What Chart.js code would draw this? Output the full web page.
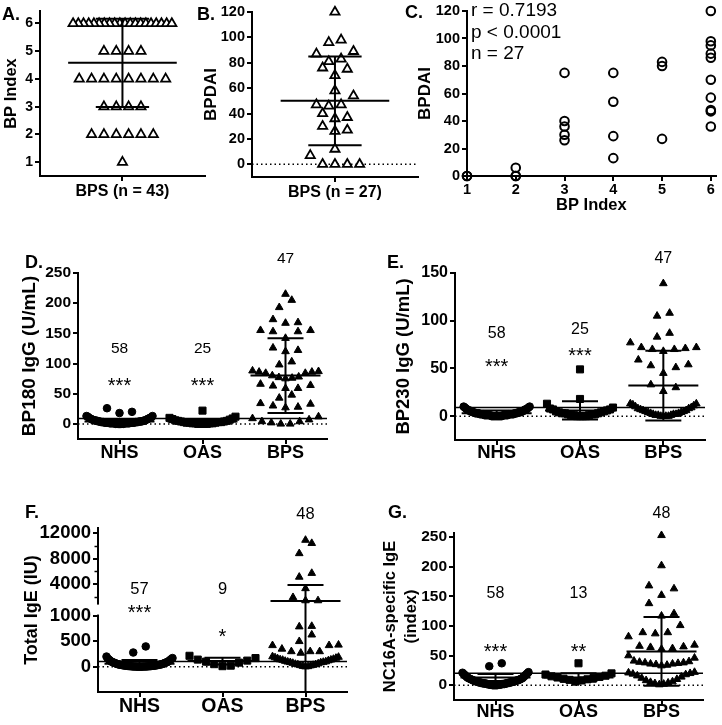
<!DOCTYPE html>
<html>
<head>
<meta charset="utf-8">
<script src="https://cdn.jsdelivr.net/npm/chart.js@4.4.1/dist/chart.umd.min.js"></script>
<style>
  body { margin: 0; background: #fff; }
  #fig { position: relative; width: 722px; height: 725px; overflow: hidden; font-family: "Liberation Sans", Arial, Helvetica, sans-serif; color: #000; }
  #fig canvas { position: absolute; }
  .tag { position: absolute; font-weight: bold; font-size: 18px; line-height: 1; z-index: 2; }
  .stat { position: absolute; left: 471px; top: -1px; font-size: 19px; line-height: 21.5px; z-index: 2; }
</style>
</head>
<body>
<div id="fig">
  <canvas id="cA"></canvas>
  <canvas id="cB"></canvas>
  <canvas id="cC"></canvas>
  <canvas id="cD"></canvas>
  <canvas id="cE"></canvas>
  <canvas id="cF"></canvas>
  <canvas id="cG"></canvas>
  <div class="tag" style="left:2px;top:5px">A.</div>
  <div class="tag" style="left:197px;top:5px">B.</div>
  <div class="tag" style="left:405px;top:3px">C.</div>
  <div class="tag" style="left:25px;top:253px">D.</div>
  <div class="tag" style="left:387px;top:253px">E.</div>
  <div class="tag" style="left:25px;top:503px">F.</div>
  <div class="tag" style="left:388px;top:503px">G.</div>
  <div class="stat">r = 0.7193<br>p &lt; 0.0001<br>n = 27</div>
</div>
<script>
// ---------- data ----------
const groupNames = ['NHS', 'OAS', 'BPS'];

// A. BP Index in BPS
const aBpIndex = [6, 6, 6, 6, 6, 6, 6, 6, 6, 6, 6, 6, 6, 6, 6, 6, 6, 6, 6, 6,
  5, 5, 5, 5, 4, 4, 4, 4, 4, 4, 4, 4, 3, 3, 3, 3, 2, 2, 2, 2, 2, 2, 1];
const aMean = [4.58];
const aSd = [1.59];
const aTicks = [1, 2, 3, 4, 5, 6];

// B. BPDAI in BPS
const bBpdai = [120, 98, 96, 89, 87, 83, 81, 76, 75, 70, 58, 54, 47, 46, 47, 40, 37, 36,
  30, 27, 26, 12, 7, 0, 0, 0, 0];
const bMean = [50];
const bSd = [35];
const bTicks = [0, 20, 40, 60, 80, 100, 120];

// C. BPDAI against BP Index
const cBpIndex = [1, 1, 2, 2, 2, 3, 3, 3, 3, 3, 4, 4, 4, 4, 5, 5, 5, 6, 6, 6, 6, 6, 6, 6, 6, 6, 6];
const cBpdai = [0, 0, 6, 0, 0, 75, 40, 36, 30, 26, 75, 54, 29, 13, 83, 80, 27,
  120, 98, 95, 89, 86, 70, 57, 48, 47, 36];
const cXTicks = [1, 2, 3, 4, 5, 6];
const cYTicks = [0, 20, 40, 60, 80, 100, 120];

// D. BP180 IgG (U/mL)
const dNhs = [26, 20, 18, 13, 13, 12, 11, 10, 10, 9, 9, 8, 8, 7, 7, 6, 6, 6, 5, 5, 5, 5, 4,
  4, 4, 4, 4, 3, 3, 3, 3, 3, 3, 2, 2, 2, 2, 2, 2, 2, 2, 1, 1, 1, 1, 1, 1, 1, 1, 1, 1, 0, 0, 0, 0, 0, 0, 0];
const dOas = [22, 12, 10, 9, 8, 7, 6, 5, 5, 4, 4, 3, 3, 3, 2, 2, 2, 1, 1, 1, 1, 0, 0, 0, 0];
const dBps = [215, 205, 193, 173, 168, 167, 155, 155, 153, 153, 142, 126, 122, 120, 103, 98,
  88, 87, 86, 84, 84, 80, 78, 77, 76, 75, 86, 66, 64, 63, 59, 59, 48, 43, 34, 33, 30, 28, 27,
  12, 9, 7, 4, 2, 0, 0, 4];
const dMean = [4, 4, 80];
const dSd = [4, 4, 62];
const dCutoff = 9;
const dStars = ['***', '***', ''];
const dTicks = [0, 50, 100, 150, 200, 250];

// E. BP230 IgG (U/mL)
const eNhs = [10, 10, 9, 9, 8, 8, 7, 7, 7, 6, 6, 6, 5, 5, 5, 5, 4, 4, 4, 4, 4, 3, 3, 3, 3, 3,
  3, 3, 2, 2, 2, 2, 2, 2, 2, 2, 2, 1, 1, 1, 1, 1, 1, 1, 1, 1, 1, 1, 0, 0, 0, 0, 0, 0, 0, 0, 0, 0];
const eOas = [49, 18, 13, 9, 8, 7, 7, 6, 5, 5, 4, 4, 3, 3, 3, 2, 2, 2, 1, 1, 1, 0, 0, 0, 0];
const eBps = [139, 108, 105, 87, 83, 77, 72, 72, 71, 70, 70, 68, 59, 54, 53, 51, 45, 33, 30, 26,
  13, 13, 12, 11, 10, 9, 8, 8, 7, 6, 6, 5, 5, 4, 4, 3, 3, 2, 2, 2, 1, 1, 1, 0, 0, 0, 0];
const eMean = [3, 6, 32];
const eSd = [3, 9.6, 36.5];
const eCutoff = 9;
const eStars = ['***', '***', ''];
const eTicks = [0, 50, 100, 150];

// F. Total IgE (IU), split axis
const fNhs = [400, 280, 200, 170, 160, 150, 140, 130, 120, 110, 100, 95, 90, 85, 80, 75, 70,
  65, 60, 55, 50, 48, 45, 42, 40, 38, 35, 32, 30, 28, 26, 24, 22, 20, 19, 18, 16, 15, 14, 12,
  11, 10, 9, 8, 7, 6, 5, 5, 4, 4, 3, 3, 2, 2, 1, 1, 0];
const fOas = [215, 170, 140, 120, 100, 80, 50, 20, 10];
const fBps = [10900, 10400, 8800, 5700, 5100, 3300, 1900, 1400, 1400, 800, 790, 630, 500,
  430, 420, 420, 350, 300, 300, 300, 270, 200, 190, 180, 170, 160, 150, 140, 135, 130, 120,
  110, 100, 95, 90, 85, 80, 70, 60, 50, 45, 40, 30, 25, 20, 10, 5, 0];
const fMean = [60, 110, 1330];
const fSd = [70, 65, 2500];
const fCutoff = 100;
const fStars = ['***', '*', ''];
const fTicks = [0, 500, 1000, 4000, 8000, 12000];
const fMinorTicks = [2000, 6000, 10000];

// G. NC16A-specific IgE (index)
const gNhs = [37, 32, 22, 21, 20, 19, 18, 17, 16, 15, 14, 13, 12, 12, 11, 11, 10, 10, 9, 9, 8,
  8, 8, 7, 7, 7, 6, 6, 6, 5, 5, 5, 5, 4, 4, 4, 4, 3, 3, 3, 3, 3, 2, 2, 2, 2, 2, 1, 1, 1, 1, 1,
  1, 0, 0, 0, 0, 0];
const gOas = [37, 20, 18, 16, 15, 14, 13, 12, 11, 10, 9, 8, 6];
const gBps = [253, 202, 168, 163, 152, 138, 121, 117, 101, 89, 89, 87, 82, 68, 66, 65, 64, 62,
  61, 50, 46, 41, 40, 39, 38, 38, 37, 36, 36, 35, 34, 33, 22, 21, 20, 19, 18, 16, 14, 12, 10,
  8, 6, 5, 4, 3, 2, 1];
const gMean = [13, 13, 57];
const gSd = [6, 7, 58];
const gCutoff = 20;
const gStars = ['***', '**', ''];
const gTicks = [0, 50, 100, 150, 200, 250];

// ---------- helpers ----------
const FONT = '"Liberation Sans", Arial, Helvetica, sans-serif';
Chart.defaults.font.family = FONT;
Chart.defaults.color = '#000';

const same = v => v;

// F: upper part of the split axis is squeezed above a blank band
const fBreak = 1000;
const fGap = 256;
const fSquash = 0.1257;
const fScale = v => (v <= fBreak ? v : fBreak + fGap + (v - fBreak) * fSquash);

// pixel sizes of the scatter layout turned into axis units
function layoutOf(g) {
  const px = (g.r - g.l) / (g.xmax - g.xmin);
  const py = (g.b - g.t) / (g.ymax - g.ymin);
  return { bin: g.binPx / py, step: g.stepPx / px, half: g.halfPx / px, mean: g.meanPx / px, cap: g.capPx / px };
}

// column scatter: values in rows, lowest in the middle, spread outwards
function swarm(values, center, lay) {
  const sorted = values.slice().sort((a, b) => a - b);
  const out = [];
  let i = 0;
  while (i < sorted.length) {
    let j = i + 1;
    while (j < sorted.length && sorted[j] - sorted[i] < lay.bin) j++;
    const row = sorted.slice(i, j);
    const n = row.length;
    const s = n > 1 ? Math.min(lay.step, 2 * lay.half / (n - 1)) : 0;
    row.forEach((v, k) => {
      let slot;
      if (n % 2) { const m = Math.ceil(k / 2); slot = k % 2 ? m : -m; }
      else { const m = Math.floor(k / 2) + 0.5; slot = k % 2 ? m : -m; }
      out.push({ x: center + slot * s, y: v });
    });
    i = j;
  }
  return out;
}

function dots(points, shape, r, fill) {
  return {
    data: points, pointStyle: shape, pointRadius: r, pointBackgroundColor: fill,
    pointBorderColor: '#000', pointBorderWidth: fill === '#000' ? 1 : 1.8, order: 2, clip: false
  };
}

function meanSd(means, sds, lay, ymin, tf) {
  const pts = [];
  const gap = () => ({ x: null, y: null });
  means.forEach((m, i) => {
    const c = i + 1;
    const mid = tf(m), lo = Math.max(tf(m - sds[i]), ymin), hi = tf(m + sds[i]);
    pts.push({ x: c - lay.mean, y: mid }, { x: c + lay.mean, y: mid }, gap(),
      { x: c, y: lo }, { x: c, y: hi }, gap(),
      { x: c - lay.cap, y: lo }, { x: c + lay.cap, y: lo }, gap(),
      { x: c - lay.cap, y: hi }, { x: c + lay.cap, y: hi }, gap());
  });
  return { data: pts, showLine: true, spanGaps: false, borderColor: '#000', borderWidth: 2, pointRadius: 0, order: 0, clip: false };
}

function hline(y, g, dotted) {
  return {
    data: [{ x: g.xmin, y: y }, { x: g.xmax, y: y }], showLine: true, borderColor: '#000',
    borderWidth: 1.5, borderDash: dotted ? [1.5, 3] : [], pointRadius: 0, order: dotted ? 5 : 4
  };
}

function scaleOpts(horiz, min, max, s, size) {
  return {
    type: 'linear', position: horiz ? 'bottom' : 'left', bounds: 'data', min: min, max: max,
    afterBuildTicks: sc => { sc.ticks = s.at.map(v => ({ value: v })); },
    afterFit: sc => { if (horiz) sc.height = size; else sc.width = size; },
    ticks: {
      autoSkip: false, maxRotation: 0, minRotation: 0, color: '#000', padding: s.pad,
      font: { size: s.size, weight: 'bold' },
      callback: (v, i) => s.labels[i]
    },
    grid: { drawOnChartArea: false, drawTicks: true, tickLength: 5, tickWidth: 2, tickColor: '#000', color: '#000', lineWidth: 2 },
    border: { display: true, color: '#000', width: 2 },
    title: s.title ? {
      display: true, text: s.title, color: '#000', padding: s.titlePad,
      font: { size: s.titleSize, weight: 'bold', lineHeight: s.titleLh || 1.2 }
    } : { display: false }
  };
}

function build(id, g, opt) {
  const cv = document.getElementById(id);
  cv.width = g.cw; cv.height = g.ch;
  cv.style.left = g.cl + 'px'; cv.style.top = g.ct + 'px';
  return new Chart(cv, {
    type: 'scatter',
    data: { datasets: opt.datasets },
    options: {
      responsive: false, animation: false, devicePixelRatio: 1, events: [],
      layout: { padding: { left: 0, bottom: 0, top: g.t - g.ct, right: g.cl + g.cw - g.r } },
      plugins: { legend: { display: false }, tooltip: { enabled: false } },
      scales: {
        x: scaleOpts(true, g.xmin, g.xmax, opt.x, g.ct + g.ch - g.b),
        y: scaleOpts(false, g.ymin, g.ymax, opt.y, g.l - g.cl)
      }
    },
    plugins: opt.plugins || []
  });
}

// group sizes and stars written above the columns
function notes(items) {
  return {
    id: 'notes',
    afterDatasetsDraw(chart) {
      const { ctx, scales: { x, y } } = chart;
      ctx.save();
      ctx.fillStyle = '#000';
      ctx.textAlign = 'center';
      ctx.textBaseline = 'middle';
      items.forEach(n => {
        ctx.font = n.size + 'px ' + FONT;
        ctx.fillText(n.text, x.getPixelForValue(n.x), y.getPixelForValue(n.y));
      });
      ctx.restore();
    }
  };
}

function groupNotes(lists, stars, countY, starY, countSize, starSize) {
  const out = [];
  lists.forEach((l, i) => {
    out.push({ x: i + 1, y: countY[i], text: String(l.length), size: countSize });
    if (stars[i]) out.push({ x: i + 1, y: starY[i], text: stars[i], size: starSize });
  });
  return out;
}

const numLabels = t => t.map(String);

// ---------- A ----------
const geoA = { cl: 0, ct: 0, cw: 212, ch: 205, l: 40, t: 11, r: 207, b: 176, xmin: 0.5, xmax: 1.5, ymin: 0.5, ymax: 6.45,
  binPx: 10, stepPx: 12.5, halfPx: 50, meanPx: 55, capPx: 27 };
const layA = layoutOf(geoA);
build('cA', geoA, {
  datasets: [
    meanSd(aMean, aSd, layA, geoA.ymin, same),
    dots(swarm(aBpIndex, 1, layA), 'triangle', 5.3, '#fff')
  ],
  x: { at: [1], labels: ['BPS (n = ' + aBpIndex.length + ')'], size: 16, pad: 1 },
  y: { at: aTicks, labels: numLabels(aTicks), size: 14, pad: 2, title: 'BP Index', titleSize: 16.5, titlePad: { top: 2 } }
});

// ---------- B ----------
const geoB = { cl: 200, ct: 0, cw: 225, ch: 205, l: 252, t: 12, r: 420, b: 177, xmin: 0.5, xmax: 1.5, ymin: -10, ymax: 120,
  binPx: 11, stepPx: 12.5, halfPx: 50, meanPx: 55, capPx: 27 };
const layB = layoutOf(geoB);
build('cB', geoB, {
  datasets: [
    meanSd(bMean, bSd, layB, geoB.ymin, same),
    dots(swarm(bBpdai, 1, layB), 'triangle', 5.3, '#fff'),
    hline(0, geoB, true)
  ],
  x: { at: [1], labels: ['BPS (n = ' + bBpdai.length + ')'], size: 16, pad: 1 },
  y: { at: bTicks, labels: numLabels(bTicks), size: 14.5, pad: 2, title: 'BPDAI', titleSize: 17, titlePad: { top: 1 } }
});

// ---------- C ----------
const geoC = { cl: 405, ct: 0, cw: 317, ch: 215, l: 467, t: 11, r: 720, b: 176, xmin: 1, xmax: 6.1, ymin: 0, ymax: 120 };
build('cC', geoC, {
  datasets: [{
    data: cBpIndex.map((v, i) => ({ x: v, y: cBpdai[i] })), pointStyle: 'circle', pointRadius: 4.3,
    pointBackgroundColor: 'rgba(0,0,0,0)', pointBorderColor: '#000', pointBorderWidth: 2, clip: false
  }],
  x: { at: cXTicks, labels: numLabels(cXTicks), size: 14.5, pad: 0, title: 'BP Index', titleSize: 16.5, titlePad: { bottom: 0 } },
  y: { at: cYTicks, labels: numLabels(cYTicks), size: 14.5, pad: 2, title: 'BPDAI', titleSize: 17, titlePad: { top: 10.2 } }
});

// ---------- D ----------
const geoD = { cl: 0, ct: 245, cw: 335, ch: 225, l: 78, t: 273, r: 327, b: 439, xmin: 0.5, xmax: 3.5, ymin: -25, ymax: 250,
  binPx: 9.5, stepPx: 12.5, halfPx: 33, meanPx: 35, capPx: 18 };
const layD = layoutOf(geoD);
build('cD', geoD, {
  datasets: [
    meanSd(dMean, dSd, layD, geoD.ymin, same),
    dots(swarm(dNhs, 1, layD), 'circle', 3.8, '#000'),
    dots(swarm(dOas, 2, layD), 'rect', 5, '#000'),
    dots(swarm(dBps, 3, layD), 'triangle', 4.4, '#000'),
    hline(dCutoff, geoD, false),
    hline(0, geoD, true)
  ],
  x: { at: [1, 2, 3], labels: groupNames, size: 18, pad: -1.5 },
  y: { at: dTicks, labels: numLabels(dTicks), size: 15.5, pad: 2, title: 'BP180 IgG (U/mL)', titleSize: 19, titlePad: { top: 18.6 } },
  plugins: [notes(groupNotes([dNhs, dOas, dBps], dStars, [124, 124, 274], [62, 62], 15.5, 20))]
});

// ---------- E ----------
const geoE = { cl: 375, ct: 245, cw: 340, ch: 225, l: 455, t: 273, r: 705, b: 440, xmin: 0.5, xmax: 3.5, ymin: -25, ymax: 150,
  binPx: 14, stepPx: 12.5, halfPx: 33, meanPx: 35, capPx: 18 };
const layE = layoutOf(geoE);
build('cE', geoE, {
  datasets: [
    meanSd(eMean, eSd, layE, geoE.ymin, same),
    dots(swarm(eNhs, 1, layE), 'circle', 3.8, '#000'),
    dots(swarm(eOas, 2, layE), 'rect', 5, '#000'),
    dots(swarm(eBps, 3, layE), 'triangle', 4.4, '#000'),
    hline(eCutoff, geoE, false),
    hline(0, geoE, true)
  ],
  x: { at: [1, 2, 3], labels: groupNames, size: 18.5, pad: -3 },
  y: { at: eTicks, labels: numLabels(eTicks), size: 16, pad: 2, title: 'BP230 IgG (U/mL)', titleSize: 18.5, titlePad: { top: 17.9 } },
  plugins: [notes(groupNotes([eNhs, eOas, eBps], eStars, [87, 91, 165], [51, 62], 16, 20))]
});

// ---------- F ----------
const geoF = { cl: 0, ct: 500, cw: 355, ch: 225, l: 98, t: 528, r: 347, b: 692, xmin: 0.5, xmax: 3.5, ymin: -500, ymax: fScale(12800),
  binPx: 10.6, stepPx: 12.5, halfPx: 33, meanPx: 35, capPx: 18 };
const layF = layoutOf(geoF);
const axisBreak = {
  id: 'axisBreak',
  beforeDatasetsDraw(chart) {
    const { ctx, chartArea, scales: { y } } = chart;
    const top = y.getPixelForValue(fBreak + fGap) + 1.5;
    const bottom = y.getPixelForValue(fBreak) - 1.5;
    ctx.save();
    ctx.fillStyle = '#fff';
    ctx.fillRect(chartArea.left - 3, top, 6, bottom - top);
    // short minor ticks on the upper part
    ctx.strokeStyle = '#000';
    ctx.lineWidth = 1.5;
    fMinorTicks.forEach(v => {
      const py = Math.round(y.getPixelForValue(fScale(v))) + 0.5;
      ctx.beginPath();
      ctx.moveTo(chartArea.left - 3.5, py);
      ctx.lineTo(chartArea.left, py);
      ctx.stroke();
    });
    ctx.restore();
  }
};
build('cF', geoF, {
  datasets: [
    meanSd(fMean, fSd, layF, geoF.ymin, fScale),
    dots(swarm(fNhs.map(fScale), 1, layF), 'circle', 3.8, '#000'),
    dots(swarm(fOas.map(fScale), 2, layF), 'rect', 5, '#000'),
    dots(swarm(fBps.map(fScale), 3, layF), 'triangle', 4.4, '#000'),
    hline(fCutoff, geoF, false),
    hline(0, geoF, true)
  ],
  x: { at: [1, 2, 3], labels: groupNames, size: 19.5, pad: -2 },
  y: { at: fTicks.map(fScale), labels: numLabels(fTicks), size: 18.5, pad: 2, title: 'Total IgE (IU)', titleSize: 18, titlePad: { top: 21.2 } },
  plugins: [axisBreak, notes(groupNotes([fNhs, fOas, fBps], fStars, [1534, 1534, 3016], [1048, 574], 16.5, 20))]
});

// ---------- G ----------
const geoG = { cl: 370, ct: 500, cw: 345, ch: 225, l: 454, t: 533, r: 703, b: 700, xmin: 0.5, xmax: 3.5, ymin: -25, ymax: 257,
  binPx: 13.6, stepPx: 12.5, halfPx: 33, meanPx: 35, capPx: 18 };
const layG = layoutOf(geoG);
build('cG', geoG, {
  datasets: [
    meanSd(gMean, gSd, layG, geoG.ymin, same),
    dots(swarm(gNhs, 1, layG), 'circle', 3.8, '#000'),
    dots(swarm(gOas, 2, layG), 'rect', 5, '#000'),
    dots(swarm(gBps, 3, layG), 'triangle', 4.4, '#000'),
    hline(gCutoff, geoG, false),
    hline(0, geoG, true)
  ],
  x: { at: [1, 2, 3], labels: groupNames, size: 18, pad: -4 },
  y: { at: gTicks, labels: numLabels(gTicks), size: 15.5, pad: 2, title: ['NC16A-specific IgE', '(index)'], titleSize: 16.5, titleLh: 1.3, titlePad: { top: 9.3 } },
  plugins: [notes(groupNotes([gNhs, gOas, gBps], gStars, [155, 155, 289], [56, 56], 16, 20))]
});
</script>
</body>
</html>
